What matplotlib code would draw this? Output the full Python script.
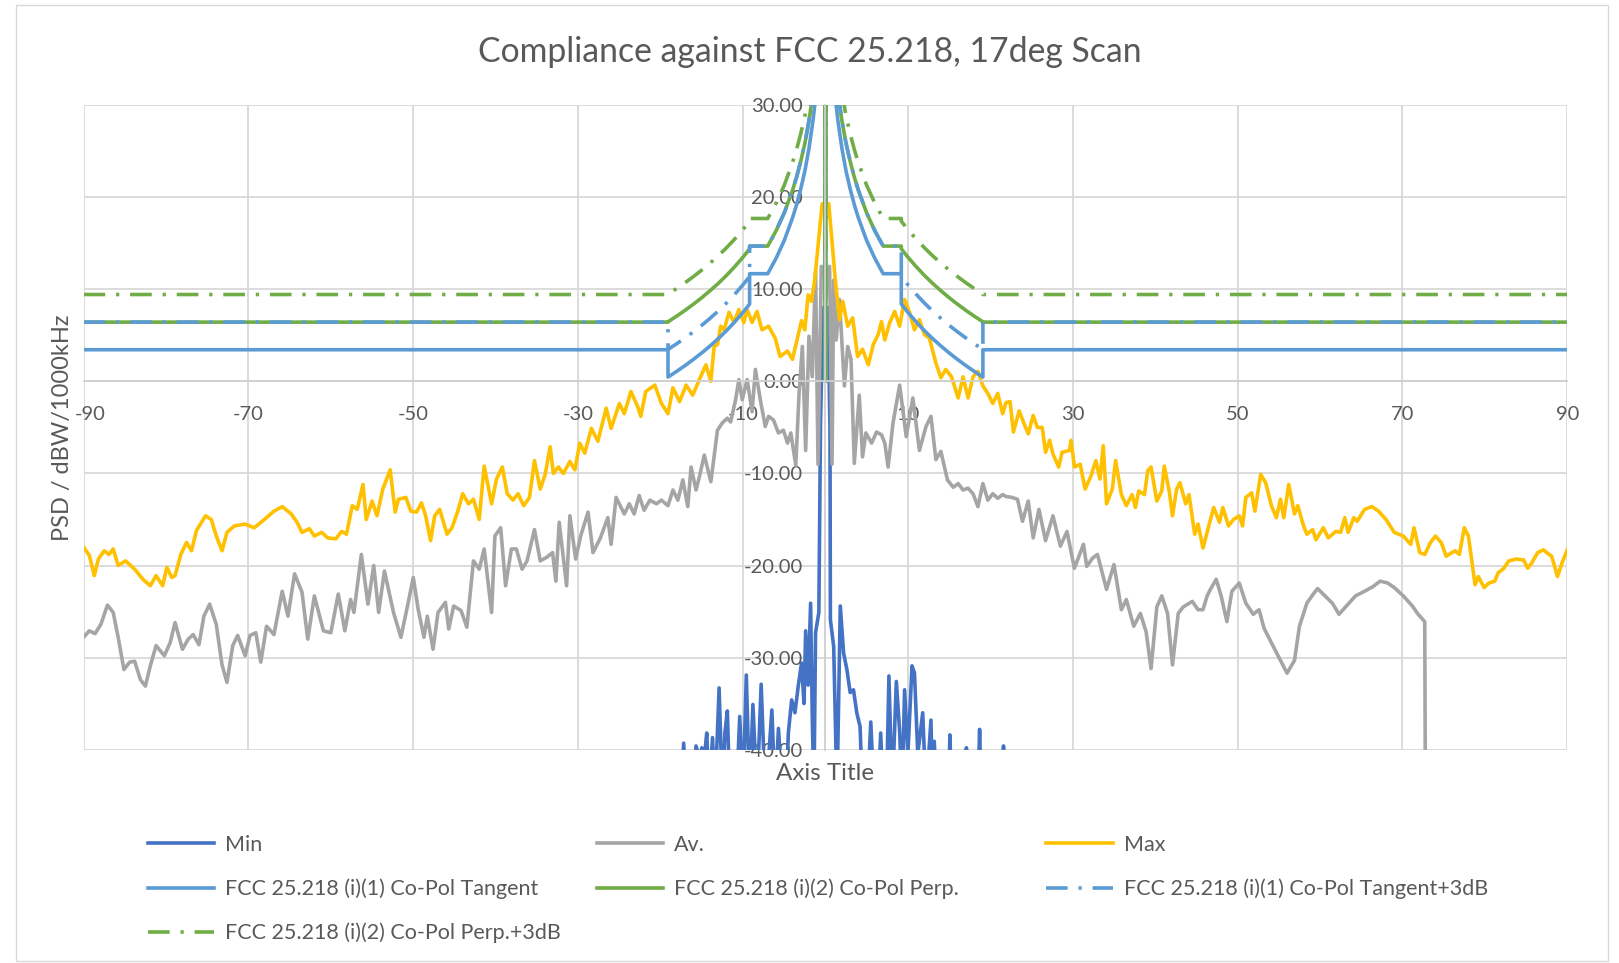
import numpy as np
import matplotlib
matplotlib.use("Agg")
import matplotlib.pyplot as plt
from matplotlib.patches import Rectangle
from matplotlib.ticker import FormatStrFormatter
from matplotlib.transforms import ScaledTranslation

plt.rcParams['font.family'] = ['Lato', 'DejaVu Sans']
plt.rcParams['axes.unicode_minus'] = False

TXT = '#595959'
GRID = '#d9d9d9'

# ---- measured series: scan angle [deg] vs PSD [dBW/1000kHz] ----
max_ang = [-90.0, -89.3, -88.7, -88.2, -87.5, -86.9, -86.4, -85.8, -84.9, -83.8,
           -82.8, -81.9, -81.2, -80.4, -79.9, -79.3, -78.9, -78.2, -77.5, -76.9,
           -76.3, -75.2, -74.5, -73.9, -73.2, -72.6, -71.7, -70.4, -69.3, -68.2,
           -66.9, -65.9, -64.8, -64.1, -63.5, -62.6, -62.0, -61.1, -60.4, -59.4,
           -58.7, -58.1, -57.4, -56.8, -56.1, -55.7, -55.0, -54.4, -53.7, -52.8,
           -52.2, -51.8, -50.9, -50.3, -49.6, -49.0, -48.5, -47.9, -47.4, -46.8,
           -45.9, -45.3, -44.6, -44.0, -43.3, -42.7, -42.0, -41.4, -40.5, -39.9,
           -39.2, -38.6, -37.9, -37.3, -36.6, -35.9, -35.3, -34.6, -34.0, -33.4,
           -33.0, -32.4, -31.8, -31.0, -30.4, -29.8, -29.2, -28.4, -27.6, -26.6,
           -26.0, -25.0, -24.4, -23.6, -22.8, -22.4, -21.8, -20.7, -19.9, -19.1,
           -18.5, -17.7, -16.9, -16.1, -15.3, -14.5, -13.9, -13.5, -13.1, -12.7,
           -12.3, -11.7, -11.1, -10.5, -9.9, -9.5, -8.9, -8.3, -7.7, -6.9,
           -6.1, -5.5, -4.6, -4.0, -3.4, -2.9, -2.5, -2.1, -1.7, -1.3,
           -0.4, 0.4, 1.2, 1.7, 2.1, 2.7, 3.3, 3.9, 4.5, 5.2,
           5.8, 6.4, 6.8, 7.2, 7.8, 8.4, 9.0, 9.6, 10.2, 10.8,
           11.4, 12.0, 12.6, 13.4, 14.0, 14.6, 15.3, 16.1, 16.7, 17.3,
           17.9, 18.5, 19.1, 19.7, 20.3, 20.9, 21.5, 21.9, 22.4, 22.8,
           23.5, 24.1, 24.6, 25.2, 25.7, 26.3, 26.7, 27.2, 27.6, 28.3,
           28.7, 29.6, 29.8, 30.2, 30.9, 31.5, 32.2, 32.8, 33.3, 33.7,
           34.1, 34.8, 35.2, 35.9, 36.5, 37.2, 37.6, 38.0, 38.7, 39.1,
           39.5, 40.2, 40.8, 41.1, 41.7, 42.1, 42.6, 43.0, 43.7, 44.1,
           44.8, 45.2, 45.8, 46.5, 47.1, 47.8, 48.2, 48.9, 49.5, 50.2,
           50.6, 51.0, 51.7, 52.1, 52.8, 53.4, 54.1, 54.7, 55.2, 55.6,
           56.2, 56.9, 57.3, 58.0, 58.4, 59.1, 59.5, 60.4, 61.0, 61.9,
           62.5, 63.0, 63.4, 64.1, 64.5, 65.4, 66.3, 67.1, 68.0, 69.0,
           70.1, 71.0, 71.4, 72.1, 72.7, 73.4, 74.0, 74.7, 75.3, 76.0,
           76.4, 76.9, 77.5, 78.0, 78.8, 79.2, 79.9, 80.5, 81.2, 81.6,
           82.3, 82.9, 83.8, 84.7, 85.2, 85.7, 86.4, 87.1, 87.5, 88.1,
           88.8, 89.4, 90.0]
max_psd = [-18.0, -18.9, -21.1, -19.3, -18.4, -18.8, -18.2, -20.0, -19.5, -20.4,
           -21.5, -22.2, -21.1, -22.2, -20.2, -21.3, -21.1, -18.8, -17.5, -18.4,
           -16.2, -14.6, -15.0, -16.8, -18.4, -16.4, -15.7, -15.5, -15.9, -15.1,
           -14.1, -13.6, -14.4, -15.3, -16.4, -16.0, -16.8, -16.4, -17.0, -17.1,
           -16.3, -16.6, -13.5, -13.9, -11.2, -15.0, -13.0, -14.6, -11.7, -9.6,
           -14.2, -12.8, -12.6, -14.1, -14.2, -13.2, -14.6, -17.3, -14.6, -13.9,
           -16.6, -15.9, -14.1, -12.2, -13.3, -12.8, -15.0, -9.2, -13.3, -10.6,
           -9.3, -12.2, -12.9, -12.2, -13.5, -12.6, -8.6, -11.7, -10.1, -7.1,
           -10.0, -9.3, -10.0, -8.7, -9.6, -6.7, -7.8, -5.1, -6.5, -2.9,
           -5.1, -2.4, -3.5, -1.1, -2.7, -3.8, -1.1, -0.4, -2.4, -3.5,
           -0.7, -2.2, -0.4, -1.5, 0.2, 1.8, 0.0, 3.8, 4.0, 6.0,
           5.6, 7.5, 6.4, 7.8, 6.4, 7.8, 6.4, 7.6, 5.6, 6.0,
           4.7, 2.7, 3.3, 2.4, 4.7, 6.6, 5.6, 9.4, 8.7, 11.0,
           19.3, 19.3, 11.0, 6.7, 8.7, 6.0, 6.9, 2.7, 3.5, 1.8,
           4.0, 5.1, 6.5, 4.5, 6.4, 7.6, 6.0, 8.9, 7.5, 5.6,
           6.7, 5.1, 4.7, 2.0, 0.4, 1.3, 0.5, -1.8, 0.5, -1.8,
           0.5, 1.1, -0.5, -1.3, -2.4, -1.3, -3.5, -2.3, -2.2, -5.5,
           -3.2, -4.6, -5.7, -3.7, -5.0, -5.0, -7.7, -6.4, -7.9, -9.3,
           -7.7, -7.5, -6.4, -9.3, -9.0, -11.7, -10.3, -8.6, -10.6, -7.0,
           -13.3, -11.7, -8.6, -12.3, -13.5, -12.3, -13.7, -11.9, -12.3, -9.7,
           -9.3, -13.0, -11.9, -9.2, -11.9, -14.6, -11.7, -11.0, -13.3, -12.3,
           -16.6, -15.5, -18.1, -15.7, -13.7, -15.3, -13.7, -15.7, -15.0, -14.6,
           -15.7, -12.6, -12.1, -14.1, -10.1, -11.0, -13.5, -14.8, -12.8, -14.8,
           -11.2, -14.4, -13.5, -15.7, -16.6, -16.1, -17.2, -15.9, -17.0, -16.3,
           -16.4, -14.8, -16.4, -14.8, -15.2, -13.9, -13.6, -14.1, -15.0, -16.4,
           -16.8, -17.7, -15.9, -18.6, -18.8, -17.5, -16.8, -17.5, -19.0, -18.6,
           -18.4, -18.8, -15.9, -16.8, -22.1, -21.2, -22.4, -21.9, -21.7, -20.8,
           -20.3, -19.5, -19.3, -19.4, -20.3, -19.7, -18.6, -18.3, -18.6, -19.0,
           -21.2, -19.6, -18.3]

av_ang = [-90.0, -89.3, -88.6, -87.9, -87.1, -86.4, -85.8, -85.1, -84.4, -83.8,
          -83.1, -82.5, -81.9, -81.2, -80.2, -79.5, -78.9, -78.0, -77.3, -76.7,
          -76.0, -75.4, -74.7, -73.9, -73.2, -72.6, -71.9, -71.3, -70.4, -69.8,
          -69.1, -68.5, -67.8, -66.9, -65.9, -65.2, -64.4, -63.5, -62.8, -62.0,
          -60.9, -60.0, -59.1, -58.3, -57.6, -57.2, -56.3, -55.5, -54.8, -54.2,
          -53.5, -52.4, -51.5, -50.7, -50.0, -49.4, -48.7, -48.3, -47.6, -47.0,
          -46.1, -45.7, -45.1, -44.2, -43.5, -42.7, -42.0, -41.4, -40.5, -40.1,
          -39.4, -38.8, -38.1, -37.5, -36.8, -36.2, -35.3, -34.6, -33.8, -33.1,
          -32.7, -32.3, -31.4, -31.0, -30.3, -29.7, -28.8, -28.2, -27.3, -26.4,
          -26.0, -25.4, -24.4, -23.8, -23.2, -22.6, -22.0, -21.3, -20.5, -19.9,
          -19.1, -18.5, -17.9, -17.3, -16.7, -16.3, -15.7, -15.3, -14.7, -13.9,
          -13.1, -12.5, -11.9, -11.5, -10.9, -10.5, -10.1, -9.5, -8.9, -8.5,
          -7.9, -7.3, -6.9, -6.3, -5.7, -5.1, -4.6, -4.2, -3.6, -3.2,
          -2.8, -2.4, -2.0, -1.6, -1.2, -0.9, -0.5, 0.0, 0.5, 0.8,
          1.0, 1.3, 1.7, 2.3, 2.7, 3.1, 3.5, 4.1, 4.5, 4.9,
          5.6, 6.2, 6.8, 7.2, 7.6, 8.2, 9.0, 9.8, 10.6, 11.4,
          12.2, 12.8, 13.4, 14.0, 14.8, 15.5, 16.1, 16.7, 17.3, 17.9,
          18.5, 19.1, 19.7, 20.3, 20.9, 21.5, 21.9, 22.6, 23.3, 23.9,
          24.6, 25.2, 25.9, 26.7, 27.6, 28.5, 29.3, 30.2, 31.3, 31.7,
          32.4, 33.0, 34.1, 35.0, 35.9, 36.5, 37.4, 38.2, 38.9, 39.5,
          40.2, 40.8, 41.5, 42.1, 42.8, 43.4, 44.5, 45.2, 45.8, 46.3,
          46.7, 47.4, 48.0, 48.7, 49.3, 50.2, 51.0, 51.9, 52.6, 53.2,
          54.1, 55.2, 56.0, 56.9, 57.5, 58.4, 59.1, 59.7, 60.6, 61.5,
          62.3, 63.2, 64.3, 65.4, 66.4, 67.3, 68.2, 69.0, 70.1, 71.2,
          71.9, 72.7, 72.8]
av_psd = [-27.8, -27.1, -27.4, -26.4, -24.3, -25.1, -27.8, -31.3, -30.5, -30.4,
          -32.4, -33.1, -30.9, -28.7, -29.8, -28.4, -26.2, -29.1, -28.0, -27.5,
          -28.6, -25.5, -24.2, -26.4, -30.8, -32.7, -28.7, -27.6, -29.8, -27.6,
          -27.3, -30.5, -26.6, -27.5, -22.8, -25.5, -20.9, -22.9, -28.0, -23.3,
          -27.1, -27.3, -23.1, -27.1, -23.7, -25.1, -18.8, -24.2, -20.0, -25.1,
          -20.6, -25.1, -27.8, -24.4, -21.3, -24.8, -27.8, -25.5, -29.1, -25.1,
          -24.0, -26.9, -24.4, -24.9, -26.7, -19.5, -20.4, -18.2, -25.1, -16.8,
          -15.9, -22.2, -18.2, -18.2, -20.4, -19.5, -16.1, -19.5, -19.1, -18.6,
          -21.7, -15.3, -22.2, -14.6, -19.3, -16.8, -14.2, -18.6, -17.0, -14.8,
          -17.7, -12.6, -14.4, -13.3, -14.4, -12.4, -14.0, -12.9, -13.3, -12.9,
          -13.5, -11.8, -12.9, -10.7, -13.6, -9.3, -11.8, -10.4, -8.0, -10.9,
          -5.3, -4.5, -4.0, -4.4, -2.0, 0.2, -2.0, 0.2, -3.3, 1.3,
          -2.0, -4.9, -3.8, -4.2, -5.6, -5.3, -6.7, -5.6, -9.1, -1.3,
          3.8, -7.5, 4.9, 0.5, 12.0, -9.0, 12.5, 11.5, 12.5, -9.0,
          11.0, 4.5, 8.9, -0.5, 3.8, 2.4, -8.9, -1.5, -8.2, -5.6,
          -6.7, -5.5, -5.8, -6.7, -9.3, -4.5, -0.4, -6.0, -1.8, -7.5,
          -4.9, -3.8, -8.5, -7.6, -10.7, -11.5, -11.1, -11.8, -11.6, -12.2,
          -13.6, -11.1, -12.9, -12.2, -12.7, -12.3, -12.5, -12.6, -12.8, -15.2,
          -13.0, -17.0, -13.9, -17.3, -14.6, -17.9, -16.3, -20.3, -17.7, -20.1,
          -19.2, -18.8, -22.6, -19.9, -24.8, -23.7, -26.6, -25.2, -27.2, -31.2,
          -24.5, -23.3, -25.2, -30.8, -25.2, -24.5, -23.9, -24.8, -24.8, -23.3,
          -22.6, -21.5, -23.3, -26.1, -22.8, -21.9, -24.1, -25.3, -24.8, -26.8,
          -28.4, -30.3, -31.7, -30.3, -26.6, -24.1, -23.2, -22.5, -23.3, -24.1,
          -25.3, -24.4, -23.3, -22.8, -22.3, -21.7, -21.9, -22.4, -23.3, -24.4,
          -25.3, -26.1, -50.0]

min_ang = [-17.5, -17.2, -16.9, -15.9, -15.7, -15.3, -15.0, -14.7, -14.4, -14.1,
           -13.7, -13.4, -12.9, -12.5, -12.2, -11.9, -11.6, -10.8, -10.4, -10.0,
           -9.6, -9.2, -8.8, -8.3, -7.8, -7.3, -6.9, -6.5, -6.1, -5.7,
           -5.2, -4.8, -4.5, -4.1, -3.7, -3.3, -2.9, -2.6, -2.4, -2.1,
           -1.8, -1.6, -1.4, -1.2, -0.8, -0.6, -0.3, 0.3, 0.55, 0.6,
           1.0, 1.4, 1.8, 2.2, 2.6, 3.0, 3.4, 3.8, 4.2, 4.5,
           5.1, 5.5, 5.9, 6.4, 6.7, 7.0, 7.4, 7.7, 8.1, 8.6,
           9.0, 9.3, 9.6, 10.0, 10.5, 10.8, 11.2, 11.8, 12.2, 12.8,
           13.0, 13.2, 13.5, 14.9, 15.1, 15.3, 16.9, 17.1, 17.3, 18.5,
           18.7, 18.9, 21.4, 21.6, 21.8]
min_psd = [-45, -39.3, -45, -45, -39.6, -41, -39.8, -41, -38.2, -45,
           -38.7, -45, -33.3, -45, -38.2, -35.8, -45, -45, -36.4, -45,
           -31.9, -45, -35.1, -45, -32.9, -45, -41, -35.7, -45, -37.7,
           -45, -45, -38.2, -34.6, -36.0, -33.1, -30.6, -35.0, -27.1, -33.0,
           -24.1, -36.4, -45, -27.3, -25.1, -4.7, 8.0, 8.0, -5.2, -25.9,
           -28.8, -45, -24.4, -29.5, -31.3, -33.8, -33.5, -36.0, -37.5, -45,
           -45, -37.0, -45, -45, -38.2, -45, -45, -32.0, -45, -32.6,
           -38.0, -45, -33.5, -40.5, -30.9, -31.7, -40.5, -36.0, -45, -36.8,
           -45, -39.1, -45, -45, -38.4, -45, -45, -39.8, -45, -45,
           -37.8, -45, -45, -39.6, -45]

# FCC 25.218 masks, one half (0..90 deg); mirrored below
mask_ang = [0, 0.1, 0.5, 1.0, 1.2, 1.5, 2.0, 2.5, 3.0, 3.5, 4.0, 5.0, 6.0, 7.0,
            9.2, 9.2, 10, 11, 12, 13, 14, 15, 16, 17, 18, 19.1, 19.1, 90]
tan_half = [0, 57.8, 40.3, 32.8, 30.8, 28.4, 25.3, 22.85, 20.9, 19.2, 17.75, 15.3, 13.35, 11.7,
            11.7, 8.4, 7.5, 6.47, 5.52, 4.65, 3.85, 3.1, 2.4, 1.74, 1.12, 0.47, 3.44, 3.44]
tan3_half = [0, 60.8, 43.3, 35.8, 33.8, 31.4, 28.3, 25.85, 23.9, 22.2, 20.75, 18.3, 16.35, 14.7,
             14.7, 11.4, 10.5, 9.47, 8.52, 7.65, 6.85, 6.1, 5.4, 4.74, 4.12, 3.47, 6.44, 6.44]
perp_half = [0, 60.8, 43.3, 35.8, 33.8, 31.4, 28.3, 25.85, 23.9, 22.2, 20.75, 18.3, 16.35, 14.7,
             14.7, 14.4, 13.5, 12.47, 11.52, 10.65, 9.85, 9.1, 8.4, 7.74, 7.12, 6.47, 6.44, 6.44]
perp3_half = [0, 63.8, 46.3, 38.8, 36.8, 34.4, 31.3, 28.85, 26.9, 25.2, 23.75, 21.3, 19.35, 17.7,
              17.7, 17.4, 16.5, 15.47, 14.52, 13.65, 12.85, 12.1, 11.4, 10.74, 10.12, 9.47, 9.44, 9.44]

labels = ["Min", "Av.", "Max",
          "FCC 25.218 (i)(1) Co-Pol Tangent", "FCC 25.218 (i)(2) Co-Pol Perp.",
          "FCC 25.218 (i)(1) Co-Pol Tangent+3dB", "FCC 25.218 (i)(2) Co-Pol Perp.+3dB"]
colors = ['#4472C4', '#A5A5A5', '#FFC000', '#5B9BD5', '#70AD47', '#5B9BD5', '#70AD47']


def mirror(ang, val):
    a = np.asarray(ang, float)
    v = np.asarray(val, float)
    return np.concatenate([-a[::-1], a[1:]]), np.concatenate([v[::-1], v[1:]])


fig = plt.figure(figsize=(16.19, 9.63), dpi=100)
fig.patches.append(Rectangle((0.0096, 0.0021), 0.9834, 0.9925, transform=fig.transFigure,
                             fill=False, edgecolor=GRID, lw=1.0))

ax = fig.add_axes([0.0516, 0.2216, 0.9165, 0.6691])

LW = 2.6
DASHDOT = (0, (6, 3, 0.9, 3))
handles = []
handles += ax.plot(min_ang, min_psd, color=colors[0], lw=LW, label=labels[0])
handles += ax.plot(av_ang, av_psd, color=colors[1], lw=LW, label=labels[1])
handles += ax.plot(max_ang, max_psd, color=colors[2], lw=LW, label=labels[2])
for i, half, ls in [(3, tan_half, '-'), (4, perp_half, '-'),
                    (5, tan3_half, DASHDOT), (6, perp3_half, DASHDOT)]:
    x, y = mirror(mask_ang, half)
    handles += ax.plot(x, y, color=colors[i], lw=LW, ls=ls, label=labels[i])

ax.set_xlim(-90, 90)
ax.set_ylim(-40, 30)
ax.set_xticks(np.arange(-90, 91, 20))
ax.set_yticks(np.arange(-40, 31, 10))
ax.yaxis.set_major_formatter(FormatStrFormatter('%.2f'))
ax.grid(True, color=GRID, lw=1.3)
ax.set_axisbelow(True)
for s in ['top', 'right']:
    ax.spines[s].set_visible(False)
ax.spines['left'].set_position(('data', 0))
ax.spines['bottom'].set_position(('data', 0))
for s in ['left', 'bottom']:
    ax.spines[s].set_color('#cfcfcf')
    ax.spines[s].set_linewidth(1.3)
ax.tick_params(axis='both', length=0, labelsize=14.5, colors=TXT)
ax.tick_params(axis='x', pad=18)
ax.tick_params(axis='y', pad=16)

# first x label sits a little inside the plot area, as in the original
first = ax.get_xticklabels()[0]
first.set_transform(first.get_transform() + ScaledTranslation(0.07, 0, fig.dpi_scale_trans))

ax.set_xlabel('Axis Title', fontsize=17.4, color=TXT)
ax.xaxis.set_label_coords(0.5, -0.021)
ax.set_ylabel('PSD / dBW/1000kHz', fontsize=17, color=TXT)
ax.yaxis.set_label_coords(-0.0068, 0.5)

fig.text(0.5, 0.946, 'Compliance against FCC 25.218, 17deg Scan',
         ha='center', va='center', fontsize=24.3, color=TXT)

# legend: three columns, row-major like the original
cols = [[0, 3, 6], [1, 4], [2, 5]]
col_x = [0.0912, 0.3686, 0.6461]
for idx, x0 in zip(cols, col_x):
    fig.legend([handles[i] for i in idx], [labels[i] for i in idx],
               loc='upper left', bbox_to_anchor=(x0, 0.133), frameon=False,
               fontsize=15.5, handlelength=3.1, handletextpad=0.5,
               borderpad=0, borderaxespad=0, labelspacing=1.1,
               labelcolor=TXT)

fig.savefig('out.png', dpi=100)
